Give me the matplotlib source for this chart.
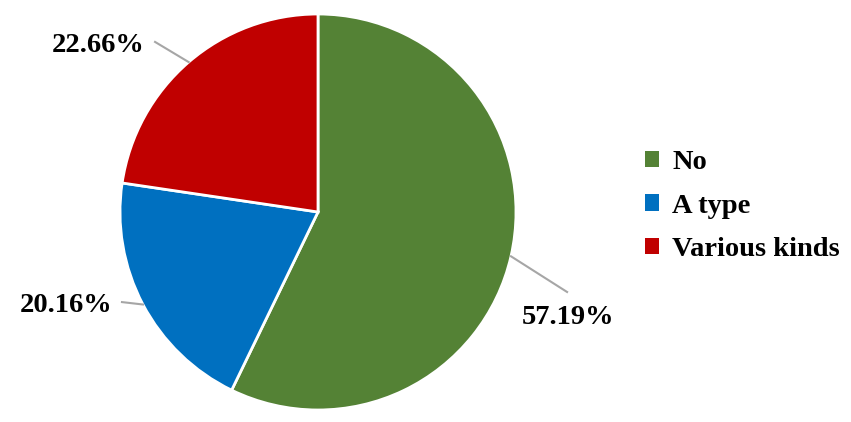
import numpy as np
import matplotlib.pyplot as plt
from matplotlib.patches import Patch

labels = ["No", "A type", "Various kinds"]
shares = [57.19, 20.16, 22.66]
colors = ["#548235", "#0070C0", "#C00000"]

# label text anchors and leader-line ends, in pie units (radius = 1)
text_pos = [(1.265, -0.535), (-1.04, -0.47), (-0.875, 0.84)]
line_end = [(1.258, -0.404), (-0.99, -0.455), (-0.823, 0.859)]
text_align = ["center", "right", "right"]

plt.rcParams["font.family"] = ["Liberation Serif", "DejaVu Serif"]
plt.rcParams["font.weight"] = "bold"

fig = plt.figure(figsize=(8.51, 4.22), dpi=100)
W, H = 851, 422
cx, cy, r = 318, 212, 198
ax = fig.add_axes([(cx - r) / W, (H - cy - r) / H, 2 * r / W, 2 * r / H])

wedges, _ = ax.pie(shares, colors=colors, startangle=90, counterclock=False,
                   radius=1, wedgeprops=dict(edgecolor="white", linewidth=2))
ax.set_xlim(-1, 1)
ax.set_ylim(-1, 1)
ax.set_aspect("equal")
ax.axis("off")

for w, val, tp, le, ha in zip(wedges, shares, text_pos, line_end, text_align):
    ang = np.deg2rad((w.theta1 + w.theta2) / 2)
    edge = (np.cos(ang), np.sin(ang))
    ax.plot([edge[0], le[0]], [edge[1], le[1]], color="#A6A6A6", lw=1.5,
            clip_on=False)
    ax.text(tp[0], tp[1], f"{val:.2f}%", ha=ha, va="center", fontsize=20.5,
            fontweight="bold", clip_on=False)

handles = [Patch(facecolor=c, edgecolor="none") for c in colors]
fig.legend(handles, labels, loc="center left", bbox_to_anchor=(645 / W, 1 - 206 / H),
           frameon=False, fontsize=20.5, handlelength=0.5, handleheight=0.5,
           handletextpad=0.45, labelspacing=0.65, borderpad=0, borderaxespad=0)

fig.savefig("out.png", dpi=100)
